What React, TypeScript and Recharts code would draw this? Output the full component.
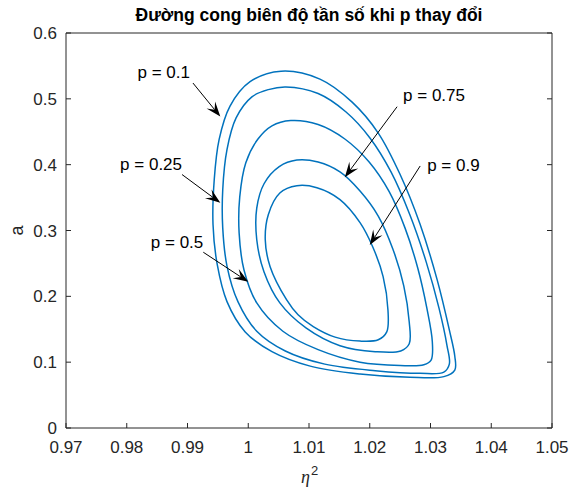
import { LineChart, Line, XAxis, YAxis, ReferenceLine } from 'recharts'

const AXIS = '#262626'
const BLUE = '#0072BD'
const FONT = '"Liberation Sans", Arial, Helvetica, sans-serif'

const xTicks = [0.97, 0.98, 0.99, 1, 1.01, 1.02, 1.03, 1.04, 1.05]
const yTicks = [0, 0.1, 0.2, 0.3, 0.4, 0.5, 0.6]

// closed amplitude-frequency loops, traced clockwise from the top
const p010Eta = [1.0054, 1.0118, 1.0171, 1.0214, 1.025, 1.0283, 1.0311, 1.0331, 1.034, 1.034, 1.0322, 1.0266, 1.0184, 1.0102, 1.0039, 0.9995, 0.9965, 0.9949, 0.9942, 0.9944, 0.9952, 0.997, 1.0003]
const p010A = [0.542, 0.53, 0.495, 0.448, 0.385, 0.309, 0.225, 0.149, 0.109, 0.088, 0.078, 0.077, 0.082, 0.094, 0.116, 0.146, 0.192, 0.248, 0.309, 0.377, 0.438, 0.489, 0.526]

const p025Eta = [1.0062, 1.0115, 1.0161, 1.02, 1.0235, 1.0266, 1.0293, 1.0314, 1.0327, 1.0331, 1.0322, 1.0283, 1.0209, 1.0126, 1.0061, 1.0014, 0.9983, 0.9965, 0.9958, 0.9958, 0.9965, 0.998, 1.0006, 1.0033]
const p025A = [0.518, 0.508, 0.48, 0.441, 0.389, 0.324, 0.252, 0.182, 0.126, 0.097, 0.085, 0.083, 0.087, 0.097, 0.117, 0.147, 0.192, 0.246, 0.304, 0.362, 0.423, 0.471, 0.503, 0.514]

const p050Eta = [1.007, 1.0115, 1.0159, 1.0199, 1.0232, 1.0258, 1.0279, 1.0294, 1.0303, 1.0301, 1.0289, 1.025, 1.0184, 1.0115, 1.0057, 1.0014, 0.9993, 0.9985, 0.9986, 0.9996, 1.0016, 1.0039]
const p050A = [0.467, 0.461, 0.439, 0.404, 0.359, 0.304, 0.243, 0.182, 0.131, 0.103, 0.096, 0.095, 0.1, 0.119, 0.147, 0.19, 0.24, 0.296, 0.351, 0.403, 0.439, 0.459]

const p075Eta = [1.008, 1.0115, 1.0151, 1.0184, 1.0214, 1.0238, 1.0256, 1.0265, 1.0265, 1.0251, 1.0209, 1.0151, 1.0095, 1.0052, 1.0026, 1.0014, 1.0014, 1.0026, 1.0051]
const p075A = [0.407, 0.404, 0.389, 0.36, 0.322, 0.272, 0.216, 0.161, 0.128, 0.117, 0.116, 0.125, 0.152, 0.19, 0.237, 0.286, 0.334, 0.371, 0.397]

const p090Eta = [1.008, 1.0113, 1.0151, 1.0184, 1.0205, 1.0222, 1.023, 1.0228, 1.0214, 1.0184, 1.0143, 1.0107, 1.0082, 1.0063, 1.0036, 1.0028, 1.0033, 1.0052]
const p090A = [0.368, 0.365, 0.347, 0.312, 0.275, 0.23, 0.179, 0.146, 0.134, 0.132, 0.138, 0.154, 0.172, 0.195, 0.245, 0.286, 0.324, 0.357]

const curveLabels = ['p = 0.1', 'p = 0.25', 'p = 0.5', 'p = 0.75', 'p = 0.9']
const curveEta = [p010Eta, p025Eta, p050Eta, p075Eta, p090Eta]
const curveA = [p010A, p025A, p050A, p075A, p090A]

// text arrows: tail (near the label) -> head (on the curve)
const arrowFromEta = [0.9909, 0.9891, 0.9926, 1.0245, 1.0283]
const arrowFromA = [0.524, 0.385, 0.267, 0.488, 0.398]
const arrowToEta = [0.9954, 0.9954, 1.0, 1.0159, 1.02]
const arrowToA = [0.473, 0.342, 0.222, 0.381, 0.278]

// where each label sits relative to its arrow tail
const labelPlace = [
  { anchor: 'end', dx: -3, dy: -5 },
  { anchor: 'end', dx: 0, dy: -5 },
  { anchor: 'end', dx: 0, dy: -4 },
  { anchor: 'start', dx: 6, dy: -6 },
  { anchor: 'start', dx: 7, dy: 5 },
]

const series = curveLabels.map((name, i) => ({
  name,
  data: curveEta[i].map((eta, j) => ({ eta, a: curveA[i][j] })),
}))

// closed centripetal catmull-rom, so the loops are smooth and have no seam
const closedSpline = (context: any) => {
  let pts: number[][] = []
  const dist = (p: number[], q: number[]) => Math.sqrt(Math.hypot(q[0] - p[0], q[1] - p[1]))
  return {
    areaStart() {},
    areaEnd() {},
    lineStart() {
      pts = []
    },
    point(x: number, y: number) {
      pts.push([+x, +y])
    },
    lineEnd() {
      const n = pts.length
      if (n < 3) return
      context.moveTo(pts[0][0], pts[0][1])
      for (let i = 0; i < n; i++) {
        const p0 = pts[(i + n - 1) % n]
        const p1 = pts[i]
        const p2 = pts[(i + 1) % n]
        const p3 = pts[(i + 2) % n]
        const l01 = dist(p0, p1)
        const l12 = dist(p1, p2)
        const l23 = dist(p2, p3)
        const c1 = [p1[0], p1[1]]
        const c2 = [p2[0], p2[1]]
        if (l01 > 1e-6) {
          const a = 2 * l01 * l01 + 3 * l01 * l12 + l12 * l12
          const m = 3 * l01 * (l01 + l12)
          for (let k = 0; k < 2; k++) c1[k] = (p1[k] * a - p0[k] * l12 * l12 + p2[k] * l01 * l01) / m
        }
        if (l23 > 1e-6) {
          const b = 2 * l23 * l23 + 3 * l23 * l12 + l12 * l12
          const m = 3 * l23 * (l23 + l12)
          for (let k = 0; k < 2; k++) c2[k] = (p2[k] * b + p1[k] * l23 * l23 - p3[k] * l12 * l12) / m
        }
        context.bezierCurveTo(c1[0], c1[1], c2[0], c2[1], p2[0], p2[1])
      }
      context.closePath()
    },
  }
}

const fmt = (v: number) => String(Math.round(v * 100) / 100)
const TICK_LEN = 5
const X_GAP = 13
const Y_GAP = 9
const FS = 17

const BottomTick = ({ x, y, payload }: any) => (
  <g>
    <line x1={x} x2={x} y1={y - X_GAP} y2={y - X_GAP - TICK_LEN} stroke={AXIS} />
    <text x={x} y={y} dy={12} textAnchor="middle" fontSize={FS} fontFamily={FONT} fill={AXIS}>
      {fmt(payload.value)}
    </text>
  </g>
)

const TopTick = ({ x, y }: any) => (
  <line x1={x} x2={x} y1={y} y2={y + TICK_LEN} stroke={AXIS} />
)

const LeftTick = ({ x, y, payload }: any) => (
  <g>
    <line x1={x + Y_GAP} x2={x + Y_GAP + TICK_LEN} y1={y} y2={y} stroke={AXIS} />
    <text x={x} y={y} dy={6} textAnchor="end" fontSize={FS} fontFamily={FONT} fill={AXIS}>
      {fmt(payload.value)}
    </text>
  </g>
)

const RightTick = ({ x, y }: any) => (
  <line x1={x} x2={x - TICK_LEN} y1={y} y2={y} stroke={AXIS} />
)

const arrowShape = (i: number) => (props: any) => {
  const { x1, y1, x2, y2 } = props
  const len = Math.hypot(x2 - x1, y2 - y1) || 1
  const ux = (x2 - x1) / len
  const uy = (y2 - y1) / len
  const nx = -uy
  const ny = ux
  const headLen = 15
  const headHalf = 5.5
  const bx = x2 - ux * headLen
  const by = y2 - uy * headLen
  const kx = x2 - ux * headLen * 0.6
  const ky = y2 - uy * headLen * 0.6
  const place = labelPlace[i]
  return (
    <g>
      <line x1={x1} y1={y1} x2={kx} y2={ky} stroke="#000" strokeWidth={1} />
      <path
        d={`M${x2},${y2}L${bx + nx * headHalf},${by + ny * headHalf}L${kx},${ky}L${bx - nx * headHalf},${by - ny * headHalf}Z`}
        fill="#000"
      />
      <text
        x={x1 + place.dx}
        y={y1 + place.dy}
        textAnchor={place.anchor as any}
        fontSize={FS}
        fontFamily={FONT}
        fill="#000"
      >
        {curveLabels[i]}
      </text>
    </g>
  )
}

const App = () => {
  return (
    <div style={{ position: 'absolute', left: 0, top: 0, background: '#fff' }}>
      <LineChart width={575} height={493} margin={{ top: 32, right: 22, left: 0, bottom: 0 }}>
        <XAxis
          dataKey="eta"
          type="number"
          domain={[0.97, 1.05]}
          ticks={xTicks}
          allowDataOverflow
          height={65}
          tickSize={0}
          tickMargin={X_GAP}
          tickLine={false}
          tick={<BottomTick />}
          stroke={AXIS}
          label={(p: any) => {
            const vb = p.viewBox
            const cx = vb.x + vb.width / 2
            return (
              <text fill={AXIS}>
                <tspan x={cx - 8} y={vb.y + 55} fontSize={18} fontStyle="italic" fontFamily="'Liberation Serif', 'DejaVu Serif', serif">
                  η
                </tspan>
                <tspan x={cx + 2} y={vb.y + 47} fontSize={13} fontFamily={FONT}>
                  2
                </tspan>
              </text>
            )
          }}
        />
        <XAxis
          xAxisId="top"
          orientation="top"
          type="number"
          domain={[0.97, 1.05]}
          ticks={xTicks}
          allowDataOverflow
          height={1}
          tickSize={0}
          tickMargin={0}
          tickLine={false}
          tick={<TopTick />}
          stroke={AXIS}
          label={(p: any) => {
            const vb = p.viewBox
            return (
              <text
                x={vb.x + vb.width / 2}
                y={21}
                textAnchor="middle"
                fontSize={17.5}
                fontWeight="bold"
                fontFamily={FONT}
                fill="#000"
              >
                Đường cong biên độ tần số khi p thay đổi
              </text>
            )
          }}
        />
        <YAxis
          type="number"
          domain={[0, 0.6]}
          ticks={yTicks}
          allowDataOverflow
          width={66}
          tickSize={0}
          tickMargin={Y_GAP}
          tickLine={false}
          tick={<LeftTick />}
          stroke={AXIS}
          label={(p: any) => {
            const vb = p.viewBox
            const cy = vb.y + vb.height / 2
            return (
              <text
                transform={`translate(${vb.x + 23},${cy}) rotate(-90)`}
                textAnchor="middle"
                fontSize={18}
                fontFamily={FONT}
                fill={AXIS}
              >
                a
              </text>
            )
          }}
        />
        <YAxis
          yAxisId="right"
          orientation="right"
          type="number"
          domain={[0, 0.6]}
          ticks={yTicks}
          allowDataOverflow
          width={1}
          tickSize={0}
          tickMargin={0}
          tickLine={false}
          tick={<RightTick />}
          stroke={AXIS}
        />
        {series.map((s) => (
          <Line
            key={s.name}
            name={s.name}
            data={s.data}
            dataKey="a"
            type={closedSpline as any}
            stroke={BLUE}
            strokeWidth={1.5}
            dot={false}
            activeDot={false}
            isAnimationActive={false}
          />
        ))}
        {curveLabels.map((label, i) => (
          <ReferenceLine
            key={label}
            segment={[
              { x: arrowFromEta[i], y: arrowFromA[i] },
              { x: arrowToEta[i], y: arrowToA[i] },
            ]}
            shape={arrowShape(i)}
          />
        ))}
      </LineChart>
    </div>
  )
}

export default App
